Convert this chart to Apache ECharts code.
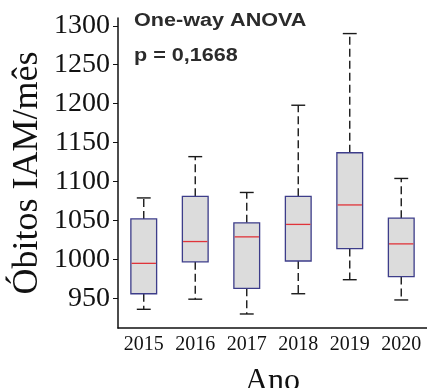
<!DOCTYPE html>
<html>
<head>
<meta charset="utf-8">
<script src="https://cdn.jsdelivr.net/npm/echarts@6/dist/echarts.min.js"></script>
<style>html,body{margin:0;padding:0;background:#fff;}#c{width:427px;height:388px;}</style>
</head>
<body>
<div id="c"></div>
<script>
const years = ['2015', '2016', '2017', '2018', '2019', '2020'];
const whiskerLow = [936, 949, 930, 956, 974, 948];
const q1 = [956, 997, 963, 998, 1014, 978];
const median = [995, 1023, 1029, 1045, 1070, 1020];
const q3 = [1052, 1081, 1047, 1081, 1137, 1053];
const whiskerHigh = [1079, 1132, 1086, 1198, 1290, 1104];
const yTicks = [950, 1000, 1050, 1100, 1150, 1200, 1250, 1300];
const annotation = ['One-way ANOVA', 'p = 0,1668'];

const data = years.map((y, i) => [i, whiskerLow[i], q1[i], median[i], q3[i], whiskerHigh[i]]);

function renderItem(params, api) {
  const x = api.value(0);
  const pLo = api.coord([x, api.value(1)]);
  const pQ1 = api.coord([x, api.value(2)]);
  const pMed = api.coord([x, api.value(3)]);
  const pQ3 = api.coord([x, api.value(4)]);
  const pHi = api.coord([x, api.value(5)]);
  const band = api.size([1, 0])[0];
  const bw = band * 0.5;
  const cw = band * 0.27;
  const cx = pMed[0];
  const dash = {stroke: '#1a1a1a', lineWidth: 1.4, lineDash: [8, 4]};
  const solid = {stroke: '#1a1a1a', lineWidth: 1.4};
  return {
    type: 'group',
    children: [
      {type: 'line', shape: {x1: cx, y1: pQ3[1], x2: cx, y2: pHi[1]}, style: dash},
      {type: 'line', shape: {x1: cx, y1: pQ1[1], x2: cx, y2: pLo[1]}, style: dash},
      {type: 'line', shape: {x1: cx - cw / 2, y1: pHi[1], x2: cx + cw / 2, y2: pHi[1]}, style: solid},
      {type: 'line', shape: {x1: cx - cw / 2, y1: pLo[1], x2: cx + cw / 2, y2: pLo[1]}, style: solid},
      {type: 'rect', shape: {x: cx - bw / 2, y: pQ3[1], width: bw, height: pQ1[1] - pQ3[1]},
        style: {fill: '#dcdcdc', stroke: '#3d3d8a', lineWidth: 1.3}},
      {type: 'line', shape: {x1: cx - bw / 2 + 0.7, y1: pMed[1], x2: cx + bw / 2 - 0.7, y2: pMed[1]},
        style: {stroke: '#e0343a', lineWidth: 1.3}}
    ]
  };
}

const chart = echarts.init(document.getElementById('c'), null, {renderer: 'canvas'});
chart.setOption({
  animation: false,
  backgroundColor: '#ffffff',
  grid: {left: 118, right: 0, top: 18, bottom: 60, containLabel: false, outerBoundsMode: 'none'},
  xAxis: {
    type: 'category',
    data: years,
    boundaryGap: true,
    name: 'Ano',
    nameLocation: 'middle',
    nameGap: 38,
    nameMoveOverlap: false,
    nameTextStyle: {fontFamily: 'Liberation Serif', fontSize: 32, color: '#111'},
    axisLine: {lineStyle: {color: '#111', width: 1.5}},
    axisTick: {show: false},
    axisLabel: {fontFamily: 'Liberation Serif', fontSize: 20, color: '#111', margin: 7, interval: 0, hideOverlap: false}
  },
  yAxis: {
    type: 'value',
    min: 912,
    max: 1310,
    name: 'Óbitos IAM/mês',
    nameLocation: 'middle',
    nameRotate: 90,
    nameGap: 72,
    nameMoveOverlap: false,
    nameTextStyle: {fontFamily: 'Liberation Serif', fontSize: 36, color: '#111'},
    axisLine: {show: true, lineStyle: {color: '#111', width: 1.5}},
    axisTick: {show: true, length: 5, inside: false, customValues: yTicks, lineStyle: {color: '#111', width: 1}},
    axisLabel: {fontFamily: 'Liberation Serif', fontSize: 28, color: '#111', margin: 8, customValues: yTicks,
      formatter: function (v) { return String(v); }},
    splitLine: {show: false}
  },
  graphic: [
    {type: 'text', left: 134, top: 12, scaleX: 1.2,
      style: {text: annotation[0], fontFamily: 'Liberation Sans', fontWeight: 'bold', fontSize: 18, fill: '#2b2b2b'}},
    {type: 'text', left: 134, top: 47, scaleX: 1.2,
      style: {text: annotation[1], fontFamily: 'Liberation Sans', fontWeight: 'bold', fontSize: 18, fill: '#2b2b2b'}}
  ],
  series: [{
    type: 'custom',
    renderItem: renderItem,
    encode: {x: 0, y: [1, 2, 3, 4, 5]},
    data: data
  }]
});
</script>
</body>
</html>
